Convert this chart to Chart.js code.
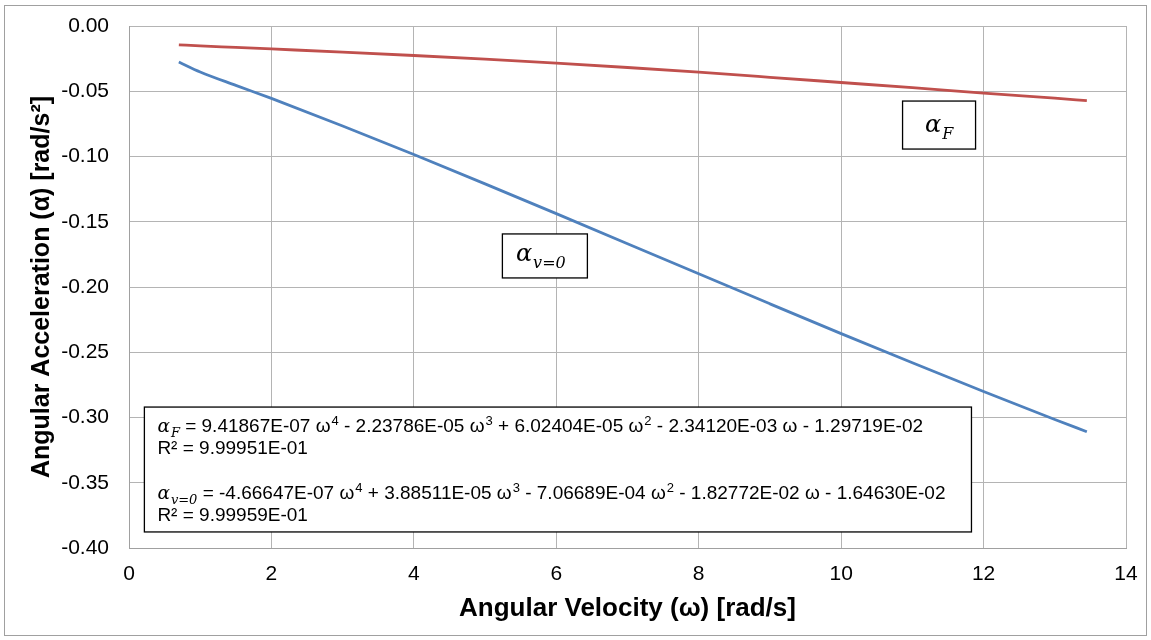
<!DOCTYPE html>
<html>
<head>
<meta charset="utf-8">
<script src="https://cdn.jsdelivr.net/npm/chart.js@4.4.1/dist/chart.umd.min.js"></script>
<style>
  html, body { margin: 0; padding: 0; background: #fff; }
  #wrap { width: 1151px; height: 640px; position: relative; }
</style>
</head>
<body>
<div id="wrap"><canvas id="accelChart" width="1151" height="640"></canvas></div>
<script>
////// data //////
const omega = [0.7, 1, 1.5, 2, 3, 4, 5, 6, 7, 8, 9, 10, 11, 12, 13, 13.45];
const alphaF = [-0.0144, -0.0153, -0.0164, -0.0176, -0.0200, -0.0226, -0.0254, -0.0285, -0.0318, -0.0354, -0.0393, -0.0433, -0.0473, -0.0515, -0.0553, -0.0572];
const alphaV0 = [-0.0276, -0.0352, -0.0455, -0.0555, -0.0766, -0.0985, -0.1210, -0.1438, -0.1668, -0.1899, -0.2129, -0.2357, -0.2581, -0.2801, -0.3015, -0.3109];

const xTicks = [0, 2, 4, 6, 8, 10, 12, 14];
const yTicks = [0, -0.05, -0.1, -0.15, -0.2, -0.25, -0.3, -0.35, -0.4];

// ^n marks a superscript power
const fitLines = [
    ['F', ' = 9.41867E-07 ω^4 - 2.23786E-05 ω^3 + 6.02404E-05 ω^2 - 2.34120E-03 ω - 1.29719E-02'],
    [null, 'R² = 9.99951E-01'],
    [null, ''],
    ['v=0', ' = -4.66647E-07 ω^4 + 3.88511E-05 ω^3 - 7.06689E-04 ω^2 - 1.82772E-02 ω - 1.64630E-02'],
    [null, 'R² = 9.99959E-01']
];

////// helpers //////
const mathFont = '"DejaVu Serif", "Liberation Serif", serif';
const sans = '"Liberation Sans", Arial, sans-serif';

// italic alpha with a subscript, returns the width used
function drawAlpha(ctx, x, y, sub, size) {
    ctx.save();
    ctx.textBaseline = 'alphabetic';
    ctx.textAlign = 'left';
    ctx.fillStyle = '#000';
    ctx.font = 'italic ' + size + 'px ' + mathFont;
    ctx.fillText('α', x, y);
    let w = ctx.measureText('α').width;
    const subSize = Math.round(size * 0.68);
    ctx.font = 'italic ' + subSize + 'px ' + mathFont;
    ctx.fillText(sub, x + w + 1, y + size * 0.28);
    w += 1 + ctx.measureText(sub).width;
    ctx.restore();
    return w;
}

// plain text with ^n superscripts
function drawPowers(ctx, x, y, txt, size) {
    const parts = txt.split(/\^(\d)/);
    parts.forEach((p, i) => {
        if (i % 2 === 1) {
            ctx.font = Math.round(size * 0.66) + 'px ' + sans;
            ctx.fillText(p, x + 1, y - size * 0.38);
            x += 1 + ctx.measureText(p).width;
        } else {
            ctx.font = size + 'px ' + sans;
            ctx.fillText(p, x, y);
            x += ctx.measureText(p).width;
        }
    });
}

function box(ctx, x1, y1, x2, y2) {
    ctx.save();
    ctx.fillStyle = '#fff';
    ctx.fillRect(x1, y1, x2 - x1, y2 - y1);
    ctx.strokeStyle = '#000';
    ctx.lineWidth = 1.3;
    ctx.strokeRect(x1, y1, x2 - x1, y2 - y1);
    ctx.restore();
}

////// plugin for the boxes and outer frame //////
const notesPlugin = {
    id: 'notes',
    afterDraw(chart) {
        const ctx = chart.ctx;
        const xs = chart.scales.x;
        const ys = chart.scales.y;

        // outer chart frame
        ctx.save();
        ctx.strokeStyle = '#a0a0a0';
        ctx.lineWidth = 1;
        ctx.strokeRect(4.5, 5.5, 1142, 630);
        ctx.restore();

        // label box for alpha F
        let cx = xs.getPixelForValue(11.375), cy = ys.getPixelForValue(-0.0759);
        box(ctx, cx - 36.5, cy - 24, cx + 36.5, cy + 24);
        drawAlpha(ctx, cx - 14, cy + 7, 'F', 24);

        // label box for alpha v=0
        cx = xs.getPixelForValue(5.84); cy = ys.getPixelForValue(-0.1762);
        box(ctx, cx - 42.5, cy - 22, cx + 42.5, cy + 22);
        drawAlpha(ctx, cx - 29, cy + 5, 'v=0', 24);

        // equations box
        const bx1 = xs.getPixelForValue(0.216), by1 = ys.getPixelForValue(-0.292);
        const bx2 = xs.getPixelForValue(11.83), by2 = ys.getPixelForValue(-0.3877);
        box(ctx, bx1, by1, bx2, by2);
        ctx.save();
        ctx.fillStyle = '#000';
        ctx.textBaseline = 'alphabetic';
        let ly = by1 + 25;
        fitLines.forEach(([sub, txt]) => {
            let lx = bx1 + 13;
            if (sub) lx += drawAlpha(ctx, lx, ly, sub, 18.5);
            drawPowers(ctx, lx, ly, txt, 19);
            ly += 22.3;
        });
        ctx.restore();
    }
};

////// chart //////
const chartCanvas = document.querySelector('#accelChart');

let accelChart = new Chart(chartCanvas, {
    type: 'line',
    data: {
        labels: omega,
        datasets: [{
            label: 'alphaF',
            data: omega.map((w, i) => ({ x: w, y: alphaF[i] })),
            borderColor: '#C0504D',
            borderWidth: 2.8,
            pointRadius: 0,
            cubicInterpolationMode: 'monotone'
        }, {
            label: 'alphaV0',
            data: omega.map((w, i) => ({ x: w, y: alphaV0[i] })),
            borderColor: '#4F81BD',
            borderWidth: 2.8,
            pointRadius: 0,
            cubicInterpolationMode: 'monotone'
        }]
    },
    options: {
        responsive: false,
        animation: false,
        events: [],
        layout: { padding: { top: 26, right: 25, left: 0, bottom: 0 } },
        plugins: { legend: { display: false }, tooltip: { enabled: false } },
        scales: {
            x: {
                type: 'linear',
                min: 0, max: 14,
                afterBuildTicks: (s) => { s.ticks = xTicks.map(v => ({ value: v })); },
                afterFit: (s) => { s.height = 92; s.paddingLeft = 0; s.paddingRight = 0; },
                grid: { color: '#b4b4b4', lineWidth: 1, drawTicks: false },
                border: { display: true, color: '#a0a0a0', width: 1 },
                ticks: {
                    padding: 14,
                    color: '#000',
                    font: { family: sans, size: 21 }
                },
                title: {
                    display: true,
                    text: 'Angular Velocity (ω) [rad/s]',
                    color: '#000',
                    font: { family: sans, size: 26, weight: 'bold' },
                    padding: { top: 0, bottom: 16 }
                }
            },
            y: {
                type: 'linear',
                min: -0.4, max: 0,
                afterBuildTicks: (s) => { s.ticks = yTicks.map(v => ({ value: v })); },
                afterFit: (s) => { s.width = 129; s.paddingTop = 0; s.paddingBottom = 0; },
                grid: { color: '#b4b4b4', lineWidth: 1, drawTicks: false },
                border: { display: true, color: '#a0a0a0', width: 1 },
                ticks: {
                    padding: 20,
                    color: '#000',
                    font: { family: sans, size: 21 },
                    callback: (v) => v.toFixed(2)
                },
                title: {
                    display: true,
                    text: 'Angular Acceleration (α) [rad/s²]',
                    color: '#000',
                    font: { family: sans, size: 25, weight: 'bold' },
                    padding: { top: 27, bottom: 0 }
                }
            }
        }
    },
    plugins: [notesPlugin]
});
</script>
</body>
</html>
